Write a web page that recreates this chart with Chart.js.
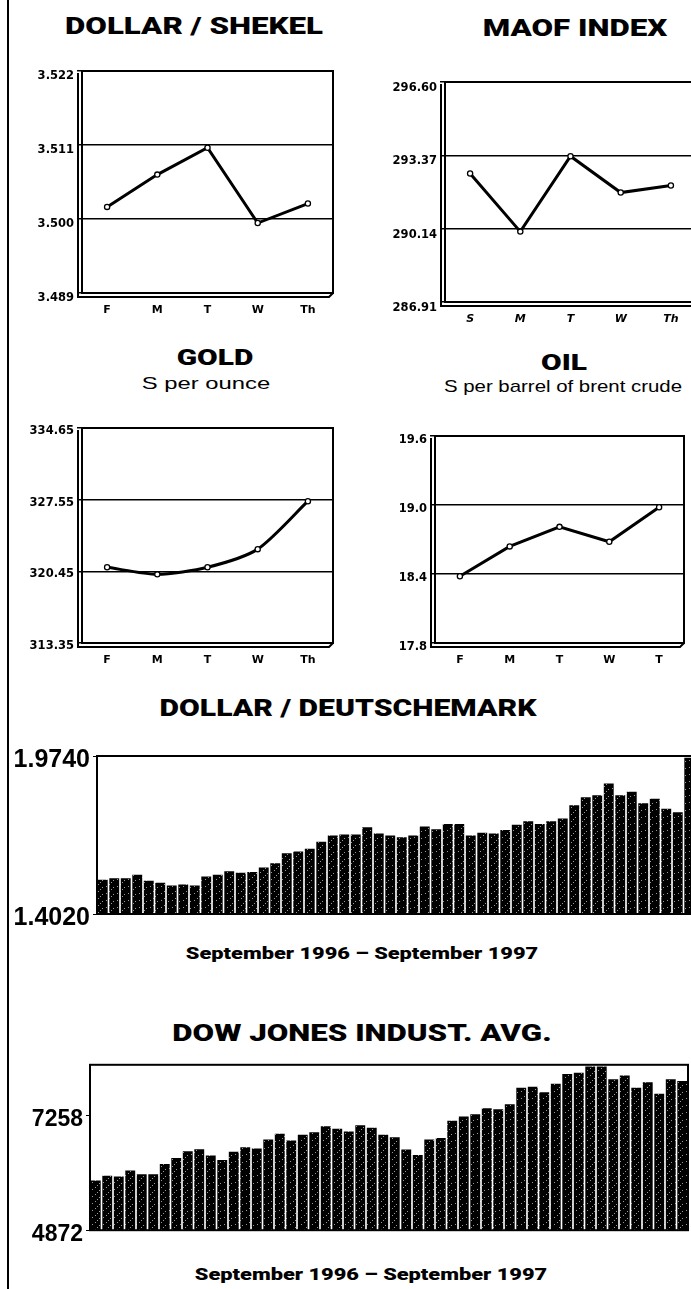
<!DOCTYPE html>
<html>
<head>
<meta charset="utf-8">
<script src="https://cdn.jsdelivr.net/npm/chart.js@4.4.1/dist/chart.umd.min.js"></script>
<style>
html, body { margin: 0; padding: 0; overflow: hidden; background: #fff; }
body { position: relative; width: 691px; height: 1289px; font-family: "Liberation Sans", Arial, sans-serif; }
canvas { position: absolute; }
.rule { position: absolute; left: 7px; top: 0; width: 2px; height: 1289px; background: #000; }
.t { position: absolute; transform: translateX(-50%) scaleX(1.36); white-space: nowrap; color: #000;
     font-family: Roboto, "Liberation Sans", sans-serif; font-weight: 900; line-height: 1; }
.s { position: absolute; white-space: nowrap; color: #000;
     font-family: "Liberation Sans", Arial, sans-serif; font-size: 17px; line-height: 1; }
</style>
</head>
<body>
<div class="rule"></div>

<div class="t" style="left:194px; top:15px; font-size:23px">DOLLAR / SHEKEL</div>
<div class="t" style="left:575px; top:17px; font-size:23px">MAOF INDEX</div>
<div class="t" style="left:215px; top:347px; font-size:22px">GOLD</div>
<div class="s" style="left:206px; top:375px; transform: translateX(-50%) scaleX(1.4)">S per ounce</div>
<div class="t" style="left:564px; top:352px; font-size:22px">OIL</div>
<div class="s" style="left:563px; top:378px; transform: translateX(-50%) scaleX(1.2)">S per barrel of brent crude</div>
<div class="t" style="left:348px; top:697px; font-size:23px; transform: translateX(-50%) scaleX(1.31)">DOLLAR / DEUTSCHEMARK</div>
<div class="t" style="left:362px; top:946px; font-size:16px">September 1996 – September 1997</div>
<div class="t" style="left:362px; top:1022px; font-size:23px">DOW JONES INDUST. AVG.</div>
<div class="t" style="left:371px; top:1267px; font-size:16px">September 1996 – September 1997</div>

<canvas id="shekel"></canvas>
<canvas id="maof"></canvas>
<canvas id="gold"></canvas>
<canvas id="oil"></canvas>
<canvas id="dm"></canvas>
<canvas id="dow"></canvas>

<script>
// Valeurs
const shekelDays = ['F', 'M', 'T', 'W', 'Th'];
const shekelValues = [3.5018, 3.5066, 3.5106, 3.4994, 3.5023];
const shekelTicks = [3.489, 3.500, 3.511, 3.522];

const maofDays = ['S', 'M', 'T', 'W', 'Th'];
const maofValues = [292.57, 290.01, 293.33, 291.73, 292.04];
const maofTicks = [286.91, 290.14, 293.37, 296.60];

const goldDays = ['F', 'M', 'T', 'W', 'Th'];
const goldValues = [320.85, 320.15, 320.85, 322.65, 327.40];
const goldTicks = [313.35, 320.45, 327.55, 334.65];

const oilDays = ['F', 'M', 'T', 'W', 'T'];
const oilValues = [18.38, 18.64, 18.81, 18.68, 18.98];
const oilTicks = [17.8, 18.4, 19.0, 19.6];

// Dollar / Deutschemark, hebdomadaire sept. 1996 - sept. 1997
const dmValues = [
    1.526, 1.531, 1.531, 1.544, 1.522, 1.515, 1.505, 1.509, 1.505, 1.538,
    1.544, 1.557, 1.551, 1.554, 1.570, 1.586, 1.622, 1.628, 1.638, 1.664,
    1.686, 1.690, 1.690, 1.716, 1.693, 1.686, 1.680, 1.686, 1.719, 1.709,
    1.728, 1.728, 1.686, 1.696, 1.693, 1.706, 1.725, 1.738, 1.728, 1.738,
    1.748, 1.796, 1.825, 1.832, 1.874, 1.832, 1.845, 1.803, 1.819, 1.783,
    1.770, 1.968
];
const dmTicks = [1.4020, 1.9740];

// Dow Jones, hebdomadaire sept. 1996 - sept. 1997
const dowValues = [
    5905, 6005, 5986, 6112, 6037, 6037, 6249, 6375, 6512, 6557,
    6426, 6332, 6501, 6595, 6569, 6757, 6877, 6738, 6858, 6907,
    7033, 6982, 6926, 7052, 7001, 6858, 6802, 6550, 6437, 6757,
    6789, 7146, 7234, 7283, 7409, 7384, 7489, 7835, 7854, 7741,
    7916, 8117, 8147, 8273, 8273, 8010, 8085, 7835, 7948, 7709,
    8010, 7972
];
const dowTicks = [4872, 7258];
const dowMax = 8310;

const weekLabels = values => values.map((v, i) => 'S' + (i + 1));

const wide = '"DejaVu Sans", Verdana, sans-serif';

// Cadre avec effet 3D
const frame = {
    id: 'frame',
    afterDraw(chart) {
        const { ctx, chartArea: a } = chart;
        const d = chart.options.plugins.frame.depth;
        ctx.save();
        ctx.strokeStyle = '#000';
        ctx.lineWidth = 2;
        ctx.strokeRect(a.left, a.top, a.right - a.left, a.bottom - a.top);
        if (d) {
            ctx.beginPath();
            ctx.moveTo(a.left - d, a.top + 2);
            ctx.lineTo(a.left - d, a.bottom + d);
            ctx.lineTo(a.right - d, a.bottom + d);
            ctx.lineTo(a.right, a.bottom);
            ctx.stroke();
        }
        ctx.restore();
    }
};

function place(canvas, area, yW, xH, padT, padR) {
    canvas.width = area.r - area.l + yW + padR;
    canvas.height = area.b - area.t + padT + xH;
    canvas.style.left = (area.l - yW) + 'px';
    canvas.style.top = (area.t - padT) + 'px';
}

function lineChart(id, area, labels, values, ticks, dec, opts) {
    const yW = 80, xH = 34, padT = 14, padR = 6;
    const c = document.getElementById(id);
    place(c, area, yW, xH, padT, padR);
    new Chart(c, {
        type: 'line',
        data: {
            labels: labels,
            datasets: [{
                data: values,
                borderColor: '#000',
                borderWidth: 3,
                tension: opts.tension || 0,
                pointRadius: 2.6,
                pointBackgroundColor: '#fff',
                pointBorderColor: '#000',
                pointBorderWidth: 1.3
            }]
        },
        options: {
            responsive: false,
            animation: false,
            layout: { padding: { top: padT, right: padR } },
            plugins: { legend: { display: false }, tooltip: { enabled: false }, frame: { depth: 4 } },
            scales: {
                x: {
                    offset: true,
                    grid: { display: false, drawTicks: false },
                    border: { display: false },
                    ticks: {
                        color: '#000', padding: 11,
                        font: { family: wide, weight: 'bold', size: 11, style: opts.italic ? 'italic' : 'normal' }
                    },
                    afterFit: s => { s.height = xH; }
                },
                y: {
                    min: ticks[0],
                    max: ticks[ticks.length - 1],
                    afterBuildTicks: s => { s.ticks = ticks.map(v => ({ value: v })); },
                    afterFit: s => { s.width = yW; },
                    grid: { color: '#000', lineWidth: 1.5, tickLength: 5 },
                    border: { display: false },
                    ticks: {
                        color: '#000', padding: 3, labelOffset: opts.labelOffset || 4,
                        font: { family: wide, weight: 'bold', size: 11.5 },
                        callback: v => Number(v).toFixed(dec)
                    }
                }
            }
        },
        plugins: [frame]
    });
}

// Motif tacheté des barres
function speckle() {
    const p = document.createElement('canvas');
    p.width = 11; p.height = 7;
    const g = p.getContext('2d');
    g.fillStyle = '#000';
    g.fillRect(0, 0, 11, 7);
    g.fillStyle = 'rgba(255,255,255,0.6)';
    g.fillRect(2, 1, 1, 1);
    g.fillRect(7, 4, 1, 1);
    g.fillRect(5, 6, 1, 1);
    g.fillRect(9, 2, 1, 1);
    return g.createPattern(p, 'repeat');
}

function barChart(id, area, values, ticks, max, dec, opts) {
    const yW = opts.yW, xH = 6, padT = 10, padR = 4;
    const c = document.getElementById(id);
    place(c, area, yW, xH, padT, padR);
    new Chart(c, {
        type: 'bar',
        data: {
            labels: weekLabels(values),
            datasets: [{
                data: values,
                backgroundColor: speckle(),
                barPercentage: 0.86,
                categoryPercentage: 1
            }]
        },
        options: {
            responsive: false,
            animation: false,
            layout: { padding: { top: padT, right: padR } },
            plugins: { legend: { display: false }, tooltip: { enabled: false }, frame: { depth: 0 } },
            scales: {
                x: {
                    grid: { display: false, drawTicks: false },
                    border: { display: false },
                    ticks: { display: false },
                    afterFit: s => { s.height = xH; }
                },
                y: {
                    min: ticks[0],
                    max: max,
                    afterBuildTicks: s => { s.ticks = ticks.map(v => ({ value: v })); },
                    afterFit: s => { s.width = yW; },
                    grid: { drawOnChartArea: false, color: '#000', tickLength: 4 },
                    border: { display: false },
                    ticks: {
                        color: '#000', padding: 3, labelOffset: opts.labelOffset,
                        font: { family: '"Liberation Sans", Arial, sans-serif', weight: 'bold', size: opts.size },
                        callback: v => Number(v).toFixed(dec)
                    }
                }
            }
        },
        plugins: [frame]
    });
}

lineChart('shekel', { l: 82, r: 333, t: 71, b: 293 }, shekelDays, shekelValues, shekelTicks, 3, { labelOffset: 5 });
lineChart('maof', { l: 445, r: 696, t: 82, b: 302 }, maofDays, maofValues, maofTicks, 2, { italic: true, labelOffset: 6 });
lineChart('gold', { l: 82, r: 333, t: 428, b: 643 }, goldDays, goldValues, goldTicks, 2, { tension: 0.25, labelOffset: 3 });
lineChart('oil', { l: 435, r: 684, t: 436, b: 643 }, oilDays, oilValues, oilTicks, 1, { labelOffset: 4 });

barChart('dm', { l: 97, r: 695, t: 748, b: 926 }, dmValues, dmTicks, dmTicks[1], 4, { yW: 92, size: 25, labelOffset: 4 });
barChart('dow', { l: 90, r: 688, t: 1058, b: 1241 }, dowValues, dowTicks, dowMax, 0, { yW: 88, size: 23, labelOffset: 4 });
</script>
</body>
</html>
